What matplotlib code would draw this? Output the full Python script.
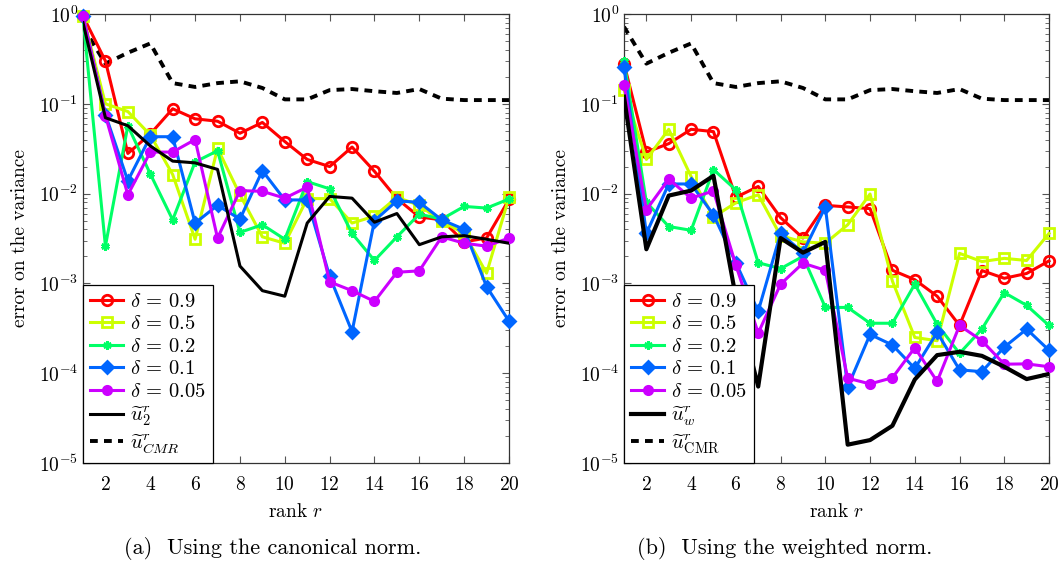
import numpy as np
import matplotlib
matplotlib.use("Agg")
from matplotlib import pyplot as plt
from matplotlib.ticker import LogLocator, NullFormatter, FixedLocator

plt.rcParams["font.family"] = "serif"
plt.rcParams["font.serif"] = ["cmr10", "DejaVu Serif"]
plt.rcParams["mathtext.fontset"] = "cm"
plt.rcParams["axes.formatter.use_mathtext"] = True
plt.rcParams["axes.unicode_minus"] = False

rank = list(range(1, 21))

# canonical norm
can_d09 = [0.95, 0.30, 0.028, 0.046, 0.088, 0.068, 0.064, 0.047, 0.062, 0.038,
           0.024, 0.020, 0.033, 0.0177, 0.0088, 0.0055, 0.0051, 0.0029, 0.0032, 0.0086]
can_d05 = [0.95, 0.10, 0.082, 0.045, 0.0163, 0.0031, 0.032, 0.0097, 0.0033, 0.0028,
           0.0088, 0.0088, 0.0047, 0.0056, 0.0091, 0.0074, 0.0049, 0.0036, 0.0013, 0.0091]
can_d02 = [0.92, 0.0026, 0.057, 0.0166, 0.0051, 0.0225, 0.030, 0.0037, 0.0045, 0.0031,
           0.0136, 0.0113, 0.0036, 0.0018, 0.0033, 0.0059, 0.0052, 0.0072, 0.0069, 0.0087]
can_d01 = [0.95, 0.076, 0.0139, 0.043, 0.043, 0.0047, 0.0074, 0.0052, 0.018, 0.0085,
           0.0085, 0.0012, 0.00029, 0.0050, 0.0083, 0.0080, 0.0051, 0.0040, 0.00092, 0.00038]
can_d005 = [0.95, 0.074, 0.0097, 0.029, 0.029, 0.040, 0.0032, 0.0108, 0.0106, 0.0089,
            0.0118, 0.00104, 0.00083, 0.00063, 0.00133, 0.00138, 0.0033, 0.0028, 0.0026, 0.0032]
can_u2 = [0.80, 0.070, 0.057, 0.034, 0.023, 0.022, 0.0186, 0.00156, 0.00083, 0.00072,
          0.0047, 0.0093, 0.0089, 0.0048, 0.0060, 0.0027, 0.0033, 0.0034, 0.0031, 0.0028]

# weighted norm
wei_d09 = [0.28, 0.029, 0.036, 0.052, 0.049, 0.0091, 0.012, 0.0054, 0.0032, 0.0074,
           0.0071, 0.0068, 0.0014, 0.0011, 0.00072, 0.00034, 0.00139, 0.00114, 0.00129, 0.00178]
wei_d05 = [0.144, 0.024, 0.052, 0.0155, 0.0055, 0.0079, 0.0097, 0.0034, 0.0029, 0.0028,
           0.0045, 0.0099, 0.00106, 0.00025, 0.00023, 0.00216, 0.00175, 0.0019, 0.0018, 0.0036]
wei_d02 = [0.30, 0.0080, 0.0043, 0.0039, 0.0185, 0.011, 0.0017, 0.00146, 0.0020, 0.00054,
           0.00054, 0.00036, 0.00036, 0.00098, 0.00035, 0.000166, 0.00031, 0.00079, 0.00057, 0.00034]
wei_d01 = [0.26, 0.0036, 0.0128, 0.0128, 0.0058, 0.0017, 0.00049, 0.0036, 0.0022, 0.0071,
           0.00007, 0.00027, 0.000206, 0.000113, 0.000285, 0.000109, 0.000104, 0.000195, 0.00031, 0.00018]
wei_d005 = [0.164, 0.0066, 0.0145, 0.0089, 0.0107, 0.0016, 0.00028, 0.00098, 0.00168, 0.0014,
            0.000088, 0.000076, 0.000089, 0.000192, 0.000081, 0.00034, 0.00023, 0.000126, 0.000127, 0.000118]
wei_uw = [0.12, 0.0024, 0.0095, 0.0108, 0.0158, 0.0007, 0.000071, 0.0032, 0.0022, 0.0029,
          0.000016, 0.000018, 0.000026, 0.000085, 0.000159, 0.000173, 0.000156, 0.000118, 0.000086, 0.000098]

# same reference curve in both panels
cmr = [0.72, 0.28, 0.37, 0.47, 0.17, 0.154, 0.17, 0.178, 0.15, 0.112,
       0.112, 0.142, 0.146, 0.138, 0.132, 0.146, 0.114, 0.11, 0.11, 0.11]

deltas = ["0.9", "0.5", "0.2", "0.1", "0.05"]
colors = ["#ff0000", "#ccff00", "#00ff66", "#0066ff", "#cc00ff"]
markers = ["o", "s", (6, 2, 0), "D", "o"]
filled = [False, False, True, True, True]
msizes = [7.5, 7, 6, 6.5, 6]


def draw_panel(ax, series, ref, ref_label, cmr_label, ref_lw):
	for vals, d, c, m, f, ms in zip(series, deltas, colors, markers, filled, msizes):
		ax.plot(rank, vals, color=c, lw=2.2, marker=m, ms=ms,
				mfc=c if f else "none", mec=c, mew=2.0,
				label=r"$\delta\,=\,%s$" % d, clip_on=False, zorder=3)
	ax.plot(rank, ref, color="black", lw=ref_lw, label=ref_label, zorder=4)
	ax.plot(rank, cmr, color="black", lw=2.8, ls=(0, (2.0, 1.6)), label=cmr_label, zorder=2)

	ax.set_yscale("log")
	ax.set_xlim(1, 20)
	ax.set_ylim(1e-5, 1)
	ax.xaxis.set_major_locator(FixedLocator(list(range(2, 21, 2))))
	ax.yaxis.set_major_locator(LogLocator(base=10, numticks=10))
	ax.yaxis.set_minor_locator(LogLocator(base=10, subs=np.arange(2, 10), numticks=20))
	ax.yaxis.set_minor_formatter(NullFormatter())
	ax.tick_params(which="both", direction="in", top=True, right=True,
				   colors="#555555", labelcolor="black", labelsize=14)
	ax.tick_params(which="major", length=5, width=0.8)
	ax.tick_params(axis="x", pad=9)
	ax.tick_params(which="minor", length=3, width=0.6)
	for s in ax.spines.values():
		s.set_color("#333333")
		s.set_linewidth(0.9)

	ax.set_xlabel(r"rank $r$", fontsize=14, labelpad=7)
	ax.set_ylabel("error on the variance", fontsize=14, labelpad=7)

	leg = ax.legend(loc="lower left", borderaxespad=0, fancybox=False, framealpha=1,
					edgecolor="black", fontsize=14.8, handlelength=1.6,
					handletextpad=0.35, labelspacing=0.2, borderpad=0.35)
	leg.get_frame().set_linewidth(0.9)
	leg.set_zorder(10)


fig = plt.figure(figsize=(10.61, 5.61), dpi=100)
W, H = 1061.0, 561.0
ax1 = fig.add_axes([83 / W, (H - 463) / H, 426 / W, 449 / H])
ax2 = fig.add_axes([624 / W, (H - 463) / H, 425 / W, 449 / H])

draw_panel(ax1, [can_d09, can_d05, can_d02, can_d01, can_d005], can_u2,
		   r"$\widetilde{u}_2^r$", r"$\widetilde{u}^r_{CMR}$", 2.2)
draw_panel(ax2, [wei_d09, wei_d05, wei_d02, wei_d01, wei_d005], wei_uw,
		   r"$\widetilde{u}_w^r$", r"$\widetilde{u}^r_{\mathrm{CMR}}$", 3.0)

fig.text(273 / W, (H - 548) / H, "(a)  Using the canonical norm.",
		 ha="center", va="center", fontsize=16)
fig.text(785 / W, (H - 548) / H, "(b)  Using the weighted norm.",
		 ha="center", va="center", fontsize=16)

fig.savefig("out.png", dpi=100)
